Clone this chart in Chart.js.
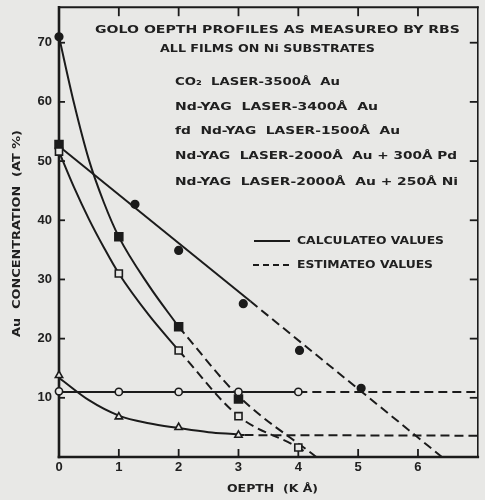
<!DOCTYPE html>
<html><head><meta charset="utf-8">
<script src="https://cdn.jsdelivr.net/npm/chart.js@4/dist/chart.umd.min.js"></script>
<style>html,body{margin:0;padding:0;background:#e8e8e6;}#wrap{width:485px;height:500px;position:relative;}</style>
</head><body><div id="wrap"><canvas id="c" width="485" height="500"></canvas></div>
<script>
// ---- tick labels ----
const xTickLabels = ['0','1','2','3','4','5','6'];
const yTickValues = [10,20,30,40,50,60,70];

// ---- measured points (x = depth kÅ, y = Au at.%) ----
const co2Points     = [[0,11.1],[1,11.0],[2,11.0],[3,11.0],[4,11.0]];
const yag3400Points = [[0,13.8],[1,6.8],[2,5.0],[3,3.7]];
const fd1500Points  = [[0,51.6],[1,31.0],[2,18.0],[3,6.9],[4,1.6]];
const pdPoints      = [[0,52.8],[1,37.2],[2,22.0],[3,9.8]];
const niPoints      = [[0,71.0],[1.27,42.7],[2,34.9],[3.08,25.9],[4.02,18.0],[5.05,11.6]];

// ---- drawn curves ----
const co2Calc   = [[0,11.0],[4,11.0]];
const co2Est    = [[4,11.0],[7,11.0]];
const yagCalc   = [[0,13.4],[0.5,9.6],[1,7.0],[1.5,5.7],[2,4.9],[2.5,4.2],[3,3.8],[3.1,3.7]];
const yagEst    = [[3.1,3.7],[7,3.6]];
const fdCalc    = [[0,51.6],[0.25,45.6],[0.5,40.2],[0.75,35.4],[1,31.0],[1.5,24.0],[2,18.0]];
const fdEst     = [[2,18.0],[3,6.9],[4,1.6],[4.15,0.6]];
const steepCalc = [[0,71.0],[0.25,59.8],[0.5,50.2],[0.75,43.0],[1,37.2],[1.5,29.0],[2,22.0]];
const steepEst  = [[2,22.0],[3,10.3],[4.3,0]];
const niCalc    = [[0,52.5],[3.2,26.3]];
const niEst     = [[3.2,26.3],[6.4,0]];

// ---- texts ----
const titleLines = ['GOLO OEPTH PROFILES AS MEASUREO BY RBS','ALL FILMS ON Ni SUBSTRATES'];
const legendLabels = ['CO₂  LASER-3500Å  Au','Nd-YAG  LASER-3400Å  Au','fd  Nd-YAG  LASER-1500Å  Au',
                      'Nd-YAG  LASER-2000Å  Au + 300Å Pd','Nd-YAG  LASER-2000Å  Au + 250Å Ni'];
const lineKeyLabels = ['CALCULATEO VALUES','ESTIMATEO VALUES'];
const xTitle = 'OEPTH  (K Å)';
const yTitle = 'Au  CONCENTRATION  (AT %)';

const INK = '#1b1b1b', BG = '#e8e8e6', TXT = '#202020';
const FONT = '"Liberation Sans", Arial, sans-serif';
const LFONT = '"DejaVu Sans", "Liberation Sans", sans-serif';

function pts(a){ return a.map(p => ({x:p[0], y:p[1]})); }
function lineDs(a, dashed){
  return {data:pts(a), showLine:true, borderColor:INK, borderWidth:2, borderDash:dashed?[9,5]:[],
          pointRadius:0, pointHoverRadius:0, cubicInterpolationMode:'monotone', fill:false, order:3};
}
function markDs(a, style, filled, r){
  return {data:pts(a), showLine:false, pointStyle:style, pointRadius:r, pointHoverRadius:r,
          pointBackgroundColor:filled?INK:BG, pointBorderColor:INK, pointBorderWidth:1.6,
          order:filled?2:1, clip:false};
}

// draw text scaled horizontally to span a given width
function fitText(ctx, str, x, y, width){
  const w = ctx.measureText(str).width;
  ctx.save(); ctx.translate(x, y); ctx.scale(width / w, 1);
  ctx.fillText(str, 0, 0); ctx.restore();
}

function seg(ctx,x1,y1,x2,y2){ ctx.beginPath(); ctx.moveTo(x1,y1); ctx.lineTo(x2,y2); ctx.stroke(); }

const bgPlugin = {id:'bg', beforeDraw(chart){ const c=chart.ctx; c.save(); c.fillStyle=BG; c.fillRect(0,0,chart.width,chart.height); c.restore(); }};

const framePlugin = {id:'frame', beforeDatasetsDraw(chart){
  const {ctx, chartArea:a, scales:{x, y}} = chart;
  ctx.save(); ctx.strokeStyle = INK; ctx.lineCap = 'square';
  ctx.lineWidth = 2.6; seg(ctx,a.left,a.top,a.left,a.bottom); seg(ctx,a.left,a.bottom,a.right,a.bottom);
  ctx.lineWidth = 2; seg(ctx,a.left,a.top,a.right,a.top);
  ctx.lineWidth = 1.6; seg(ctx,a.right,a.top,a.right,a.bottom);
  ctx.lineCap = 'butt'; ctx.lineWidth = 1.8;
  xTickLabels.forEach(t => { const v = Number(t); if (v === 0) return; const px = x.getPixelForValue(v);
    seg(ctx,px,a.bottom,px,a.bottom-8); seg(ctx,px,a.top,px,a.top+9); });
  yTickValues.forEach(v => { const py = y.getPixelForValue(v);
    seg(ctx,a.left,py,a.left+6,py); seg(ctx,a.right,py,a.right-8,py); });
  ctx.restore();
}};

const legendPlugin = {id:'legendText', afterDraw(chart){
  const {ctx} = chart;
  ctx.save(); ctx.fillStyle = TXT; ctx.textBaseline = 'middle'; ctx.textAlign = 'left';
  ctx.font = 'bold 10px ' + LFONT;
  fitText(ctx, titleLines[0], 95, 30, 365);
  fitText(ctx, titleLines[1], 160, 49, 215);
  ctx.font = 'bold 11px ' + LFONT;
  const ys = [82,107,131,156,182], ends = [340,378,400,457,458];
  const styles = [['circle',false],['triangle',false],['rect',false],['rect',true],['circle',true]];
  legendLabels.forEach((s,i) => {
    ctx.fillStyle = TXT;
    fitText(ctx, s, 175, ys[i], ends[i]-175);
    ctx.strokeStyle = INK; ctx.lineWidth = 1.4; ctx.fillStyle = styles[i][1] ? INK : BG;
    const st = styles[i][0];
    Chart.helpers.drawPoint(ctx, {pointStyle:st, rotation:0, borderWidth:1.4}, 163, ys[i], st==='rect'?4.2:(st==='triangle'?3.8:2.8));
  });
  ctx.fillStyle = TXT;
  // line keys
  ctx.strokeStyle = INK; ctx.lineWidth = 2;
  seg(ctx,254,241,290,241);
  ctx.setLineDash([6,4]); seg(ctx,253,265,292,265); ctx.setLineDash([]);
  ctx.font = 'bold 11px ' + LFONT;
  fitText(ctx, lineKeyLabels[0], 297, 241, 147);
  fitText(ctx, lineKeyLabels[1], 297, 265, 136);
  // axis titles
  ctx.font = 'bold 11px ' + LFONT;
  fitText(ctx, xTitle, 227, 489, 91);
  ctx.translate(17, 337); ctx.rotate(-Math.PI/2);
  fitText(ctx, yTitle, 0, 0, 207);
  ctx.restore();
}};

function noPad(s){ s.paddingTop = 0; s.paddingBottom = 0; s.paddingLeft = 0; s.paddingRight = 0; }

new Chart(document.getElementById('c'), {
  type:'scatter',
  data:{datasets:[
    markDs(co2Points,'circle',false,3.6),
    markDs(yag3400Points,'triangle',false,4.2),
    markDs(fd1500Points,'rect',false,5),
    markDs(pdPoints,'rect',true,5.6),
    markDs(niPoints,'circle',true,3.8),
    lineDs(co2Calc,false), lineDs(co2Est,true),
    lineDs(yagCalc,false), lineDs(yagEst,true),
    lineDs(fdCalc,false), lineDs(fdEst,true),
    lineDs(steepCalc,false), lineDs(steepEst,true),
    lineDs(niCalc,false), lineDs(niEst,true)
  ]},
  options:{
    responsive:false, animation:false, events:[],
    layout:{padding:{top:7, right:2, left:0, bottom:0}},
    plugins:{legend:{display:false}, tooltip:{enabled:false}},
    scales:{
      x:{type:'linear', min:0, max:7,
         afterBuildTicks:s => { s.ticks = xTickLabels.map(t => ({value:Number(t)})); },
         ticks:{autoSkip:false, maxRotation:0, padding:3, color:TXT,
                font:{family:FONT, size:13, weight:'bold'},
                callback:(v) => xTickLabels[v] ?? ''},
         grid:{display:false, drawTicks:false}, border:{display:false},
         afterFit:s => { s.height = 43; noPad(s); }},
      y:{type:'linear', min:0, max:76,
         afterBuildTicks:s => { s.ticks = yTickValues.map(v => ({value:v})); },
         ticks:{autoSkip:false, padding:7, color:TXT,
                font:{family:FONT, size:13, weight:'bold'}},
         grid:{display:false, drawTicks:false}, border:{display:false},
         afterFit:s => { s.width = 59; noPad(s); }}
    }
  },
  plugins:[bgPlugin, framePlugin, legendPlugin]
});
</script></body></html>
